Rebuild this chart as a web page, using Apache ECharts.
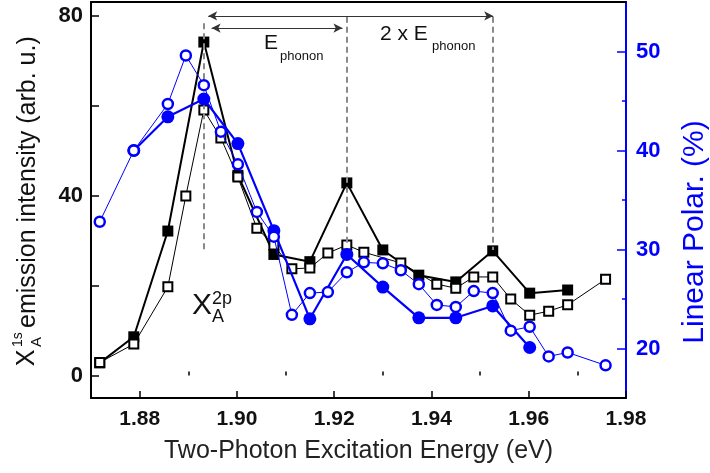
<!DOCTYPE html>
<html><head><meta charset="utf-8">
<script src="https://cdn.jsdelivr.net/npm/echarts@6/dist/echarts.min.js"></script>
<style>html,body{margin:0;padding:0;background:#fff}#c{width:710px;height:473px}</style>
</head><body><div id="c"></div>
<script>
// ---- data ----
const xFilledSq = [1.8718, 1.8788, 1.8858, 1.8932, 1.9002, 1.9076, 1.9150, 1.9226, 1.9300, 1.9374, 1.9450, 1.9526, 1.9602, 1.9680];
const yFilledSq = [2.8, 8.6, 32.1, 74.1, 44.5, 26.9, 25.3, 42.8, 27.9, 22.3, 20.8, 27.7, 18.3, 19.0];

const xOpenSq = [1.8718, 1.8788, 1.8858, 1.8895, 1.8932, 1.8967, 1.9002, 1.9041, 1.9076, 1.9113, 1.9150, 1.9187, 1.9226, 1.9261, 1.9337, 1.9411, 1.9450, 1.9487, 1.9526, 1.9563, 1.9602, 1.9641, 1.9680, 1.9758];
const yOpenSq = [2.9, 7.0, 19.7, 39.9, 59.0, 52.8, 44.1, 32.7, 29.0, 23.7, 23.9, 27.2, 29.0, 27.4, 25.0, 20.3, 19.4, 21.9, 21.9, 17.0, 13.4, 14.3, 15.7, 21.4];

const xFilledCirc = [1.8788, 1.8858, 1.8932, 1.9002, 1.9076, 1.9150, 1.9226, 1.9300, 1.9374, 1.9450, 1.9526, 1.9602];
const yFilledCirc = [40.0, 43.4, 45.2, 40.7, 31.9, 23.0, 29.5, 26.2, 23.1, 23.1, 24.3, 20.1];

const xOpenCirc = [1.8718, 1.8788, 1.8858, 1.8895, 1.8932, 1.8967, 1.9002, 1.9041, 1.9076, 1.9113, 1.9150, 1.9187, 1.9226, 1.9261, 1.9300, 1.9337, 1.9374, 1.9411, 1.9450, 1.9487, 1.9526, 1.9563, 1.9602, 1.9641, 1.9680, 1.9758];
const yOpenCirc = [32.8, 40.0, 44.7, 49.6, 46.6, 41.9, 38.6, 33.8, 31.3, 23.4, 25.6, 25.7, 27.7, 28.7, 28.6, 27.9, 26.5, 24.4, 24.2, 25.8, 25.6, 21.8, 22.2, 19.2, 19.6, 18.3];

const xTickLabels = [1.88, 1.90, 1.92, 1.94, 1.96, 1.98];
const xMinorTicks = [1.89, 1.91, 1.93, 1.95, 1.97];
const leftTicks = [0, 20, 40, 60, 80];
const leftTickLabels = [0, 40, 80];
const rightTicks = [20, 30, 40, 50];
const rightMinorTicks = [25, 35, 45];

const dashedX = [1.8932, 1.9226, 1.9526];
const dashedTop = [78.3, 79.7, 79.7];
const dashedBottom = [27.2, 29.0, 27.9];
const arrowFrom = [1.8941, 1.8948];
const arrowTo = [1.9527, 1.9217];
const arrowY = [79.9, 77.2];

// ---- chart ----
const FONT = 'Liberation Sans, Arial, sans-serif';
const BLUE = '#0000ff';
const zip = (xs, ys) => xs.map((x, i) => [x, ys[i]]);
const chart = echarts.init(document.getElementById('c'), null, {renderer: 'canvas'});

const option = {
  animation: false,
  backgroundColor: '#fff',
  grid: {left: 91, right: 84, top: 2, bottom: 75, containLabel: false},
  xAxis: [
    {
      type: 'value', min: 1.87, max: 1.98, position: 'bottom',
      axisLine: {show: true, onZero: false, lineStyle: {color: '#000', width: 2}},
      axisTick: {show: true, inside: true, length: 7, customValues: xTickLabels, lineStyle: {color: '#000', width: 1.5}},
      axisLabel: {show: true, customValues: xTickLabels, margin: 11, formatter: v => v.toFixed(2),
        fontFamily: FONT, fontWeight: 'bold', fontSize: 21, color: '#111'},
      splitLine: {show: false},
      name: 'Two-Photon Excitation Energy (eV)', nameLocation: 'middle', nameGap: 41,
      nameTextStyle: {fontFamily: FONT, fontSize: 25, color: '#222'}
    },
    {
      type: 'value', min: 1.87, max: 1.98, position: 'bottom',
      axisLine: {show: false},
      axisTick: {show: true, inside: true, length: 4, customValues: xMinorTicks, lineStyle: {color: '#000', width: 1.5}},
      axisLabel: {show: false}, splitLine: {show: false}
    },
    {
      type: 'value', min: 1.87, max: 1.98, position: 'top',
      axisLine: {show: true, onZero: false, lineStyle: {color: '#000', width: 2}},
      axisTick: {show: false}, axisLabel: {show: false}, splitLine: {show: false}
    }
  ],
  yAxis: [
    {
      type: 'value', min: -5, max: 83, position: 'left',
      axisLine: {show: true, onZero: false, lineStyle: {color: '#000', width: 2}},
      axisTick: {show: true, inside: true, length: 8, customValues: leftTicks, lineStyle: {color: '#000', width: 1.5}},
      axisLabel: {show: true, customValues: leftTickLabels, margin: 8,
        fontFamily: FONT, fontWeight: 'bold', fontSize: 22, color: '#111'},
      splitLine: {show: false}
    },
    {
      type: 'value', min: 15, max: 55, position: 'right',
      axisLine: {show: true, onZero: false, lineStyle: {color: BLUE, width: 2}},
      axisTick: {show: true, inside: true, length: 9, customValues: rightTicks, lineStyle: {color: BLUE, width: 1.5}},
      axisLabel: {show: true, customValues: rightTicks, margin: 10,
        fontFamily: FONT, fontWeight: 'bold', fontSize: 22, color: BLUE},
      splitLine: {show: false}
    },
    {
      type: 'value', min: 15, max: 55, position: 'right',
      axisLine: {show: false},
      axisTick: {show: true, inside: true, length: 4, customValues: rightMinorTicks, lineStyle: {color: BLUE, width: 1.5}},
      axisLabel: {show: false}, splitLine: {show: false}
    }
  ],
  series: [
    {
      type: 'line', name: 'dashed', xAxisIndex: 0, yAxisIndex: 0, data: [], z: 1,
      markLine: {
        silent: true, animation: false, symbol: 'none', label: {show: false},
        lineStyle: {color: '#8a8a8a', type: [6, 4], width: 2},
        emphasis: {disabled: true},
        data: dashedX.map((x, i) => [{coord: [x, dashedTop[i]]}, {coord: [x, dashedBottom[i]]}])
      }
    },
    {
      type: 'line', name: 'arrows', xAxisIndex: 0, yAxisIndex: 0, data: [], z: 1,
      markLine: {
        silent: true, animation: false, symbol: ['arrow', 'arrow'], symbolSize: [7, 9], label: {show: false},
        lineStyle: {color: '#333', type: 'solid', width: 1},
        emphasis: {disabled: true},
        data: arrowFrom.map((x, i) => [{coord: [x, arrowY[i]]}, {coord: [arrowTo[i], arrowY[i]]}])
      }
    },
    {
      type: 'line', name: 'filledSq', xAxisIndex: 0, yAxisIndex: 0, data: zip(xFilledSq, yFilledSq), z: 3,
      symbol: 'rect', symbolSize: 11, showAllSymbol: true,
      itemStyle: {color: '#000'}, lineStyle: {color: '#000', width: 2}
    },
    {
      type: 'line', name: 'openSq', xAxisIndex: 0, yAxisIndex: 0, data: zip(xOpenSq, yOpenSq), z: 4,
      symbol: 'rect', symbolSize: 9, showAllSymbol: true,
      itemStyle: {color: '#fff', borderColor: '#000', borderWidth: 2}, lineStyle: {color: '#000', width: 1}
    },
    {
      type: 'line', name: 'filledCirc', xAxisIndex: 0, yAxisIndex: 1, data: zip(xFilledCirc, yFilledCirc), z: 5,
      symbol: 'circle', symbolSize: 13, showAllSymbol: true,
      itemStyle: {color: BLUE}, lineStyle: {color: BLUE, width: 2.2}
    },
    {
      type: 'line', name: 'openCirc', xAxisIndex: 0, yAxisIndex: 1, data: zip(xOpenCirc, yOpenCirc), z: 6,
      symbol: 'circle', symbolSize: 10, showAllSymbol: true,
      itemStyle: {color: '#fff', borderColor: BLUE, borderWidth: 2.5}, lineStyle: {color: BLUE, width: 1}
    }
  ],
  graphic: [
    // left axis title, rotated (reads bottom to top)
    {
      type: 'group', x: 27, y: 195, rotation: Math.PI / 2, silent: true,
      children: [
        {type: 'text', x: -163, y: 0, style: {text: 'X', font: '25px ' + FONT, fill: '#111', textAlign: 'center', textVerticalAlign: 'middle'}},
        {type: 'text', x: -152, y: -9, style: {text: '1s', font: '14px ' + FONT, fill: '#111', textAlign: 'left', textVerticalAlign: 'middle'}},
        {type: 'text', x: -152, y: 10, style: {text: 'A', font: '15px ' + FONT, fill: '#111', textAlign: 'left', textVerticalAlign: 'middle'}},
        {type: 'text', x: -133, y: 1, style: {text: 'emission intensity (arb. u.)', font: '25px ' + FONT, fill: '#111', textAlign: 'left', textVerticalAlign: 'middle'}}
      ]
    },
    // right axis title
    {type: 'text', x: 695, y: 232, rotation: Math.PI / 2, silent: true,
      style: {text: 'Linear Polar. (%)', font: '30px ' + FONT, fill: BLUE, textAlign: 'center', textVerticalAlign: 'middle'}},
    // X_A^2p annotation
    {type: 'text', x: 202, y: 306, silent: true, style: {text: 'X', font: '30px ' + FONT, fill: '#111', textAlign: 'center', textVerticalAlign: 'middle'}},
    {type: 'text', x: 212, y: 299, silent: true, style: {text: '2p', font: '18px ' + FONT, fill: '#111', textAlign: 'left', textVerticalAlign: 'middle'}},
    {type: 'text', x: 212, y: 317, silent: true, style: {text: 'A', font: '18px ' + FONT, fill: '#111', textAlign: 'left', textVerticalAlign: 'middle'}},
    // E_phonon
    {type: 'text', x: 264, y: 43, silent: true, style: {text: 'E', font: '21px ' + FONT, fill: '#111', textAlign: 'left', textVerticalAlign: 'middle'}},
    {type: 'text', x: 280, y: 56, silent: true, style: {text: 'phonon', font: '13px ' + FONT, fill: '#111', textAlign: 'left', textVerticalAlign: 'middle'}},
    // 2 x E_phonon
    {type: 'text', x: 380, y: 34, silent: true, style: {text: '2 x E', font: '21px ' + FONT, fill: '#111', textAlign: 'left', textVerticalAlign: 'middle'}},
    {type: 'text', x: 432, y: 46, silent: true, style: {text: 'phonon', font: '13px ' + FONT, fill: '#111', textAlign: 'left', textVerticalAlign: 'middle'}}
  ]
};
chart.setOption(option);
</script>
</body></html>
